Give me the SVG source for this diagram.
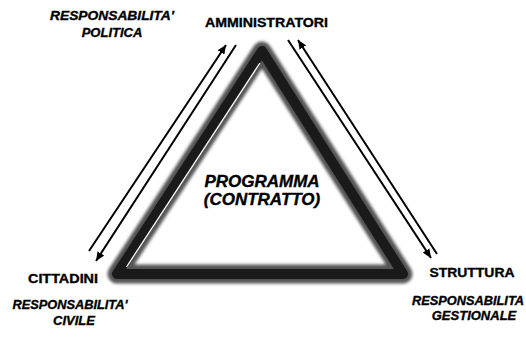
<svg xmlns="http://www.w3.org/2000/svg" width="526" height="341" viewBox="0 0 526 341">
<style>
.lbl{font-family:"Liberation Sans",Arial,sans-serif;font-weight:bold;fill:#000;stroke:#000;stroke-width:0.35px;}
.node{font-size:13px;}
.note{font-size:13px;font-style:italic;}
.prog{font-size:17px;font-style:italic;}
.arr{stroke:#000;stroke-width:2;fill:none;}
</style>
<defs>
<marker id="ah" markerUnits="userSpaceOnUse" markerWidth="10" markerHeight="8" refX="9" refY="4" orient="auto">
<path d="M0,0 L9,4 L0,8 Z" fill="#000"/>
</marker>
<filter id="fz" x="-10%" y="-10%" width="120%" height="120%">
<feGaussianBlur stdDeviation="1.8"/>
</filter>
</defs>
<rect width="526" height="341" fill="#fff"/>
<g id="programma">
<polygon points="262,51 117,274 403,274" fill="none" stroke="#555" stroke-width="19" stroke-linejoin="round" filter="url(#fz)"/>
<polygon points="262,51 117,274 403,274" fill="none" stroke="#1a1a1a" stroke-width="10" stroke-linejoin="round"/>
<line x1="259.9" y1="63" x2="126.5" y2="267" stroke="#fff" stroke-width="1.3"/>
<text class="lbl prog" x="262" y="187" text-anchor="middle">PROGRAMMA</text>
<text class="lbl prog" x="262" y="205" text-anchor="middle">(CONTRATTO)</text>
</g>
<g id="amministratori">
<text class="lbl node" x="266.5" y="27" text-anchor="middle" textLength="123" lengthAdjust="spacingAndGlyphs">AMMINISTRATORI</text>
</g>
<g id="cittadini">
<text class="lbl node" x="63" y="283" text-anchor="middle" textLength="70" lengthAdjust="spacingAndGlyphs">CITTADINI</text>
</g>
<g id="struttura">
<text class="lbl node" x="472" y="277" text-anchor="middle" textLength="85" lengthAdjust="spacingAndGlyphs">STRUTTURA</text>
</g>
<g id="notes">
<text class="lbl note" x="112" y="20" text-anchor="middle" textLength="124" lengthAdjust="spacingAndGlyphs">RESPONSABILITA'</text>
<text class="lbl note" x="112" y="37" text-anchor="middle">POLITICA</text>
<text class="lbl note" x="70" y="309" text-anchor="middle" textLength="115" lengthAdjust="spacingAndGlyphs">RESPONSABILITA'</text>
<text class="lbl note" x="74" y="325" text-anchor="middle">CIVILE</text>
<text class="lbl note" x="412" y="305" textLength="112" lengthAdjust="spacingAndGlyphs">RESPONSABILITA</text>
<text class="lbl note" x="474" y="320" text-anchor="middle">GESTIONALE</text>
</g>
<g id="connectors">
<line class="arr" x1="89" y1="251" x2="226" y2="45" marker-end="url(#ah)"/>
<line class="arr" x1="236" y1="45" x2="96" y2="261" marker-end="url(#ah)"/>
<line class="arr" x1="288" y1="40" x2="431" y2="258" marker-end="url(#ah)"/>
<line class="arr" x1="437" y1="254" x2="298" y2="40" marker-end="url(#ah)"/>
</g>
</svg>
